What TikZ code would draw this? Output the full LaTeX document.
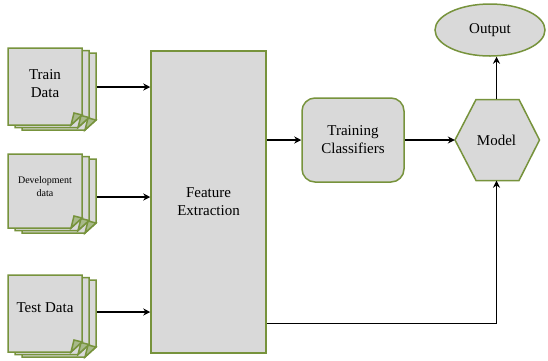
\documentclass[tikz,border=0pt]{standalone}
\usepackage{fontspec}
\setmainfont{Liberation Serif}
\usetikzlibrary{arrows.meta,shapes.geometric}
\definecolor{boxfill}{HTML}{D9D9D9}
\definecolor{boxline}{HTML}{77933C}
\definecolor{foldfill}{HTML}{A8B98A}

% one sheet of a document stack: x, y (top left), width, height
\newcommand\docsheet[4]{%
  \filldraw[sheet] (#1,#2) -- ({#1+#3},#2) -- ({#1+#3},{#2+#4-10})
    -- ({#1+#3-11},{#2+#4}) -- (#1,{#2+#4}) -- cycle;
  \filldraw[sheet,fill=foldfill] ({#1+#3},{#2+#4-10}) -- ({#1+#3-8},{#2+#4-12})
    -- ({#1+#3-11},{#2+#4}) -- cycle;}
% three sheets, the front one at x, y
\newcommand\docstack[4]{%
  \docsheet{#1+14}{#2+5}{#3}{#4}%
  \docsheet{#1+7}{#2+2.5}{#3}{#4}%
  \docsheet{#1}{#2}{#3}{#4}}

\tikzset{
  sheet/.style={draw=boxline,fill=boxfill,line width=1.5pt,line join=miter},
  greenbox/.style={draw=boxline,fill=boxfill,line width=1.5pt},
  label/.style={align=center,font=\fontsize{15}{18}\selectfont,inner sep=0pt},
  stackbox/.style={rectangle,inner sep=0pt,minimum width=89pt},
  arr/.style={-{Stealth[length=7pt,width=7pt]},line width=1.4pt,black}
}

\begin{document}
\begin{tikzpicture}[x=1pt,y=-1pt]
\useasboundingbox[fill=white] (0,0) rectangle (548,360);

% input document stacks
\docstack{8}{48}{74}{77}
\docstack{8}{154}{74}{74}
\docstack{8}{275}{74}{77}
\node[stackbox,minimum height=82pt] (trainstack) at (52.5,87) {};
\node[stackbox,minimum height=80pt] (devstack) at (52.5,197) {};
\node[stackbox,minimum height=82pt] (teststack) at (52.5,312) {};
\node[label] (train) at (45,84) {Train\\Data};
\node[label,font=\fontsize{10}{13}\selectfont] (dev) at (45,187) {Development\\data};
\node[label] (test) at (45,308) {Test Data};

% feature extraction block
\node[greenbox,rectangle,minimum width=115pt,minimum height=302pt,label]
  (fe) at (208.5,202) {Feature\\Extraction};

% classifier training
\node[greenbox,rectangle,rounded corners=13pt,minimum width=102pt,
  minimum height=84pt,label] (tc) at (353,140) {Training\\Classifiers};

% model hexagon
\coordinate (mc) at (496.5,140);
\filldraw[greenbox,line join=miter] ([xshift=-41.5pt]mc) -- ++(21,-40.5) -- ++(43,0)
  -- ++(20.5,40.5) -- ++(-20.5,40.5) -- ++(-43,0) -- cycle;
\node[label,minimum width=83pt,minimum height=81pt] (model) at (mc) {Model};

% output
\node[greenbox,ellipse,minimum width=110pt,minimum height=52pt,label]
  (out) at (490,30) {Output};

% connectors
\draw[arr] (trainstack.east) -- (trainstack.east -| fe.west);
\draw[arr] (devstack.east) -- (devstack.east -| fe.west);
\draw[arr] (teststack.east) -- (teststack.east -| fe.west);
\draw[arr] (fe.east |- tc.west) -- (tc.west);
\draw[arr] (tc.east) -- (model.west);
\draw[arr] ([yshift=30pt]fe.south east) -| (model.south);
\draw[arr] (model.north) -- (model.north |- out.south);
\end{tikzpicture}
\end{document}
